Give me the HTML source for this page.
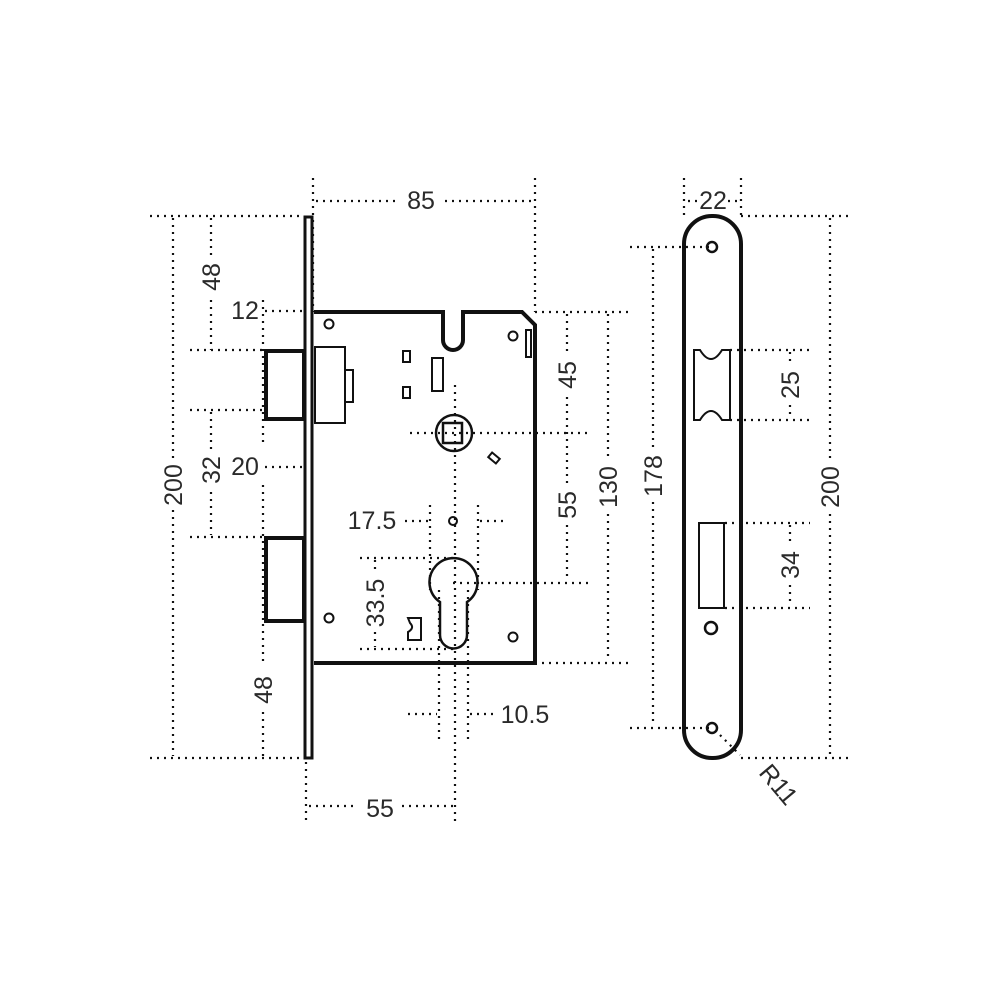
<!DOCTYPE html>
<html><head><style>html,body{margin:0;padding:0;background:#fff}svg{display:block}
text{font-family:"Liberation Sans",sans-serif;font-size:25px;fill:#2a2a2a}</style></head>
<body>
<svg width="1000" height="1000" viewBox="0 0 1000 1000" xmlns="http://www.w3.org/2000/svg">
<g stroke="#111" stroke-width="2.2" stroke-dasharray="2 5" fill="none">
<path d="M313 178V312M535 178V312M316 201H398M445 201H533"/>
<path d="M150 216H304M150 758H304M173 218V460M173 510V756"/>
<path d="M211 218V255M211 300V350M190 350H264M190 410H264M190 537H264M211 412V450M211 492V535"/>
<path d="M263 300V445M263 485V620M263 624V665M263 712V756M265 311H302M265 467H302"/>
<path d="M306 762V822M455 385V822M309 806H358M402 806H453"/>
<path d="M439 590V740M468 590V740M408 714H437M470 714H495"/>
<path d="M430 505V590M478 505V590M405 521H428M480 521H505"/>
<path d="M360 558H453M360 649H453M375 560V573M375 632V647"/>
<path d="M410 433H590M453 583H590M535 312H630M535 663H630M567 314V355M567 397V485M567 525V581M608 314V458M608 514V661"/>
<path d="M684 178V216M741 178V216M688 201H698M728 201H738"/>
<path d="M630 247H712M630 728H712M653 249V450M653 502V726"/>
<path d="M741 216H850M741 758H850M830 218V460M830 514V756"/>
<path d="M730 350H810M730 420H810M790 352V365M790 405V418M725 523H810M725 608H810M790 525V545M790 585V606"/>
<path d="M720 735L740 755"/>
</g>
<g>
<text x="421" y="209" text-anchor="middle">85</text>
<text x="245" y="319" text-anchor="middle">12</text>
<text x="245" y="475" text-anchor="middle">20</text>
<text x="380" y="817" text-anchor="middle">55</text>
<text x="525" y="723" text-anchor="middle">10.5</text>
<text x="372" y="529" text-anchor="middle">17.5</text>
<text x="713" y="209" text-anchor="middle">22</text>
<text transform="translate(182,485) rotate(-90)" text-anchor="middle">200</text>
<text transform="translate(220,277) rotate(-90)" text-anchor="middle">48</text>
<text transform="translate(220,470) rotate(-90)" text-anchor="middle">32</text>
<text transform="translate(272,690) rotate(-90)" text-anchor="middle">48</text>
<text transform="translate(384,603) rotate(-90)" text-anchor="middle">33.5</text>
<text transform="translate(576,375) rotate(-90)" text-anchor="middle">45</text>
<text transform="translate(576,505) rotate(-90)" text-anchor="middle">55</text>
<text transform="translate(617,487) rotate(-90)" text-anchor="middle">130</text>
<text transform="translate(662,476) rotate(-90)" text-anchor="middle">178</text>
<text transform="translate(839,487) rotate(-90)" text-anchor="middle">200</text>
<text transform="translate(799,385) rotate(-90)" text-anchor="middle">25</text>
<text transform="translate(799,565) rotate(-90)" text-anchor="middle">34</text>
<text transform="translate(772,790) rotate(50)" text-anchor="middle">R11</text>
</g>
<g stroke="#111" fill="none">
<rect x="305" y="217" width="7" height="541" stroke-width="3"/>
<path d="M314 312H443V340A10 10 0 0 0 463 340V312H522L535 325V663H314" stroke-width="4"/>
<rect x="526" y="330" width="5" height="27" stroke-width="2"/>
<rect x="266" y="351" width="38" height="68" stroke-width="4"/>
<rect x="266" y="538" width="38" height="83" stroke-width="4"/>
<rect x="315" y="347" width="30" height="76" stroke-width="2"/>
<rect x="345" y="370" width="8" height="32" stroke-width="2"/>
<rect x="403" y="351" width="7" height="11" stroke-width="2"/>
<rect x="403" y="387" width="7" height="11" stroke-width="2"/>
<rect x="432" y="358" width="11" height="33" stroke-width="2"/>
<circle cx="454" cy="433" r="18" stroke-width="2.5"/>
<rect x="443" y="423" width="19" height="20" stroke-width="2.5"/>
<rect x="489" y="455" width="10" height="6" transform="rotate(40 494 458)" stroke-width="2"/>
<circle cx="453" cy="521" r="4" stroke-width="2"/>
<path d="M440 602A24 24 0 1 1 467 602V635A13.5 13.5 0 0 1 440 635Z" stroke-width="2.5"/>
<path d="M408 618H421V640H408V632Q415 628 410 623Z" stroke-width="2"/>
<circle cx="329" cy="324" r="4.5" stroke-width="2"/>
<circle cx="513" cy="336" r="4.5" stroke-width="2"/>
<circle cx="329" cy="618" r="4.5" stroke-width="2"/>
<circle cx="513" cy="637" r="4.5" stroke-width="2"/>
<rect x="684" y="216" width="57" height="542" rx="28" stroke-width="4"/>
<circle cx="712" cy="247" r="5" stroke-width="2.5"/>
<circle cx="711" cy="628" r="6" stroke-width="2.5"/>
<circle cx="712" cy="728" r="5" stroke-width="2.5"/>
<path d="M694 350H700Q711 368 722 350H730V420H722Q711 402 700 420H694Z" stroke-width="2"/>
<rect x="699" y="523" width="25" height="85" stroke-width="2"/>
</g>
</svg>
</body></html>
